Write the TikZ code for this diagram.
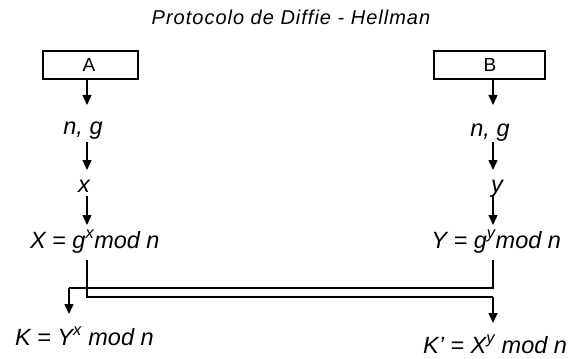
\documentclass[tikz,border=0pt]{standalone}
\usepackage{fontspec}
\setmainfont{Liberation Sans}
\usetikzlibrary{arrows.meta}
\begin{document}
\begin{tikzpicture}[x=1pt,y=-1pt,
  every node/.style={inner sep=0pt,outer sep=0pt},
  lbl/.style={font=\fontsize{23.5}{27}\selectfont\itshape},
  ttl/.style={font=\fontsize{20}{24}\selectfont\itshape\addfontfeatures{LetterSpace=5}},
  boxlbl/.style={font=\fontsize{19}{22}\selectfont},
  party/.style={draw,line width=1.4pt,minimum height=28pt},
  arr/.style={line width=1.4pt,-{Triangle[width=9pt,length=10pt]}},
  wire/.style={line width=1.4pt}]
\useasboundingbox (0,0) rectangle (569,358);
% title
\node[ttl,anchor=base] (title) at (291,25) {Protocolo de Diffie - Hellman};
% parties
\node[party,minimum width=95pt] (A) at (90.5,65) {};
\node[boxlbl,anchor=base] (Alab) at (89,72) {A};
\node[party,minimum width=111pt] (B) at (489.5,65) {};
\node[boxlbl,anchor=base] (Blab) at (490,72) {B};
\coordinate (colA) at (87,0);
\coordinate (colB) at (493,0);
% left column
\node[lbl,anchor=base] (ngA) at (83,135) {n, g};
\node[lbl,anchor=base] (xA) at (84,192) {x};
\node[lbl,anchor=base west] (XA) at (30,248) {X = g\textsuperscript{x}mod n};
\node[lbl,anchor=base west] (KA) at (15,345) {K = Y\textsuperscript{x} mod n};
% right column
\node[lbl,anchor=base] (ngB) at (490,136) {n, g};
\node[lbl,anchor=base] (yB) at (497,192) {y};
\node[lbl,anchor=base east] (YB) at (561,248) {Y = g\textsuperscript{y}mod n};
\node[lbl,anchor=base east] (KB) at (567,353) {K’ = X\textsuperscript{y} mod n};
% coordinates for wires
\coordinate (a1) at (87,260);
\coordinate (b1) at (493,260);
\coordinate (tipA) at (69,314);
\coordinate (tipB) at (493,323);
% vertical arrows
\draw[arr] (A.south -| colA) -- (87,105);
\draw[arr] (87,142) -- (87,170);
\draw[arr] (87,196) -- (87,225);
\draw[arr] (B.south -| colB) -- (493,105);
\draw[arr] (493,142) -- (493,170);
\draw[arr] (493,196) -- (493,225);
% crossing wires
\draw[wire] (a1) -- (87,297) -- (493,297);
\draw[arr] (493,297) -- (tipB);
\draw[wire] (b1) -- (493,288) -- (69,288);
\draw[arr] (69,288) -- (tipA);
\end{tikzpicture}
\end{document}
